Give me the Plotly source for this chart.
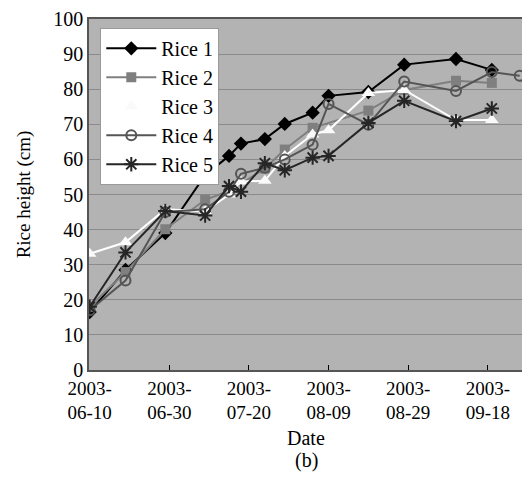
import plotly.graph_objects as go

# Measurement dates
d_r1 = ["2003-06-10", "2003-06-19", "2003-06-29", "2003-07-09", "2003-07-15", "2003-07-18",
        "2003-07-24", "2003-07-29", "2003-08-05", "2003-08-09", "2003-08-19", "2003-08-28",
        "2003-09-10", "2003-09-19"]
rice1 = [16.5, 28.5, 39.0, 55.5, 61.0, 64.5, 65.8, 70.1, 73.3, 78.1, 79.2, 87.0, 88.6, 85.5]

d_r2 = ["2003-06-10", "2003-06-19", "2003-06-29", "2003-07-09", "2003-07-15", "2003-07-24",
        "2003-07-29", "2003-08-05", "2003-08-19", "2003-08-28", "2003-09-10", "2003-09-19"]
rice2 = [18.0, 27.9, 40.1, 48.5, 51.0, 57.4, 62.8, 69.0, 73.9, 79.8, 82.4, 81.8]

d_r3 = ["2003-06-10", "2003-06-19", "2003-06-29", "2003-07-09", "2003-07-15", "2003-07-18",
        "2003-07-24", "2003-07-29", "2003-08-05", "2003-08-09", "2003-08-19", "2003-08-28",
        "2003-09-10", "2003-09-19"]
rice3 = [33.1, 36.4, 45.8, 45.2, 50.0, 53.7, 53.9, 61.0, 67.1, 68.3, 78.9, 79.8, 71.2, 71.2]

d_r4 = ["2003-06-10", "2003-06-19", "2003-06-29", "2003-07-09", "2003-07-15", "2003-07-18",
        "2003-07-24", "2003-07-29", "2003-08-05", "2003-08-09", "2003-08-19", "2003-08-28",
        "2003-09-10", "2003-09-19", "2003-09-26"]
rice4 = [17.0, 25.5, 45.0, 45.8, 50.8, 55.9, 57.6, 60.0, 64.2, 75.8, 69.9, 82.2, 79.5, 84.9, 83.8]

d_r5 = ["2003-06-10", "2003-06-19", "2003-06-29", "2003-07-09", "2003-07-15", "2003-07-18",
        "2003-07-24", "2003-07-29", "2003-08-05", "2003-08-09", "2003-08-19", "2003-08-28",
        "2003-09-10", "2003-09-19"]
rice5 = [18.0, 33.5, 45.3, 44.0, 52.4, 50.8, 58.9, 56.9, 60.5, 61.0, 70.4, 76.7, 70.9, 74.5]

tick_dates = ["2003-06-10", "2003-06-30", "2003-07-20", "2003-08-09", "2003-08-29", "2003-09-18"]
tick_labels = ["2003-<br>06-10", "2003-<br>06-30", "2003-<br>07-20", "2003-<br>08-09",
               "2003-<br>08-29", "2003-<br>09-18"]
y_ticks = list(range(0, 101, 10))

FONT = "Liberation Serif"

fig = go.Figure()
fig.add_trace(go.Scatter(x=d_r1, y=rice1, name="Rice 1", mode="lines+markers",
                         line=dict(color="#000000", width=2),
                         marker=dict(symbol="diamond", size=11, color="#000000")))
fig.add_trace(go.Scatter(x=d_r2, y=rice2, name="Rice 2", mode="lines+markers",
                         line=dict(color="#7f7f7f", width=2),
                         marker=dict(symbol="square", size=10, color="#7f7f7f")))
fig.add_trace(go.Scatter(x=d_r3, y=rice3, name="Rice 3", mode="lines+markers",
                         line=dict(color="#ffffff", width=2),
                         marker=dict(symbol="triangle-up", size=12, color="#fafafa")))
fig.add_trace(go.Scatter(x=d_r4, y=rice4, name="Rice 4", mode="lines+markers",
                         line=dict(color="#555555", width=2),
                         marker=dict(symbol="circle-open", size=10, color="#555555",
                                     line=dict(width=2))))
fig.add_trace(go.Scatter(x=d_r5, y=rice5, name="Rice 5", mode="lines+markers",
                         line=dict(color="#262626", width=2),
                         marker=dict(symbol="asterisk-open", size=12, color="#262626",
                                     line=dict(width=2, color="#262626"))))

fig.update_layout(
    width=522, height=470,
    margin=dict(l=81, r=7, t=11, b=108, autoexpand=False),
    paper_bgcolor="#ffffff",
    plot_bgcolor="#b3b3b3",
    font=dict(family=FONT, size=20, color="#000000"),
    showlegend=True,
    legend=dict(x=0.026, y=0.975, xanchor="left", yanchor="top",
                bgcolor="#ffffff", bordercolor="#9a9a9a", borderwidth=1,
                font=dict(family=FONT, size=20), tracegroupgap=0,
                itemwidth=50),
    xaxis=dict(type="date", range=["2003-06-09 20:00", "2003-09-26 20:00"],
               tickmode="array", tickvals=tick_dates, ticktext=tick_labels,
               ticks="inside", ticklen=5, tickcolor="#000000", tickwidth=1,
               showgrid=False, showline=True, linecolor="#555555", linewidth=1.5,
               mirror=True, zeroline=False, automargin=False,
               ticklabeloverflow="allow",
               tickfont=dict(family=FONT, size=19)),
    yaxis=dict(range=[0, 100], tickmode="array", tickvals=y_ticks,
               showgrid=True, gridcolor="#8a8a8a", gridwidth=1,
               showline=True, linecolor="#555555", linewidth=1.5, mirror=True,
               zeroline=False, ticks="", ticklen=0, automargin=False,
               ticklabeloverflow="allow",
               tickfont=dict(family=FONT, size=20),
               title=dict(text="Rice height (cm)", font=dict(family=FONT, size=19), standoff=18)),
    annotations=[
        dict(text="Date", x=0.5, y=-0.193, xref="paper", yref="paper",
             xanchor="center", yanchor="middle", showarrow=False,
             font=dict(family=FONT, size=20)),
        dict(text="(b)", x=0.5, y=-0.258, xref="paper", yref="paper",
             xanchor="center", yanchor="middle", showarrow=False,
             font=dict(family=FONT, size=20)),
    ],
)

fig.write_html("out.html")
